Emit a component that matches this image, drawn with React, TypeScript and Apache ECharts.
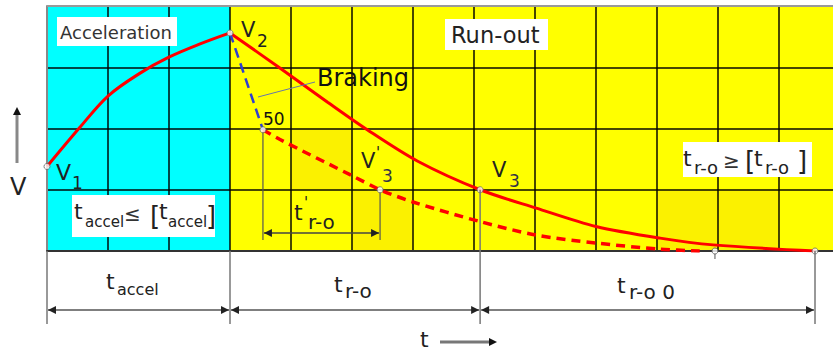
import React, { useEffect, useRef } from "react";
import * as echarts from "echarts";

// ---- data (time in grid columns, speed in grid rows) ----
const xMax = 12.885;
const yMax = 4;
const cyanEnd = 3;
const phaseBounds = [0, 3.0, 7.1, 12.59];
const accelCurve = [
  [0, 1.38], [0.54, 2.02], [1.0, 2.53], [1.52, 2.9], [1.99, 3.16], [2.51, 3.38], [3.0, 3.56],
];
const runoutCurve = [
  [3.0, 3.56], [3.8, 3.0], [4.6, 2.43], [5.25, 1.98], [6.07, 1.47], [7.1, 1.0],
  [8.02, 0.7], [9.0, 0.4], [10.05, 0.21], [10.92, 0.1], [12.59, 0],
];
const brakedCurve = [
  [3.54, 1.98], [3.82, 1.82], [5.02, 1.22], [5.46, 1.0], [6.0, 0.8], [7.1, 0.48],
  [8.02, 0.26], [9.0, 0.13], [10.05, 0.03], [10.7, 0],
];
const brakingLine = [[3.0, 3.56], [3.54, 1.98]];
const keyPoints = [[0, 1.38], [3.0, 3.56], [3.54, 1.98], [5.46, 1.0], [7.1, 1.0], [12.59, 0]];
const halfPoint = [[10.95, 0]];
const shadedCells = [[4, 1], [5, 0], [10, 0], [11, 0]];

const FONT = "DejaVu Sans";

export default function App() {
  const ref = useRef<HTMLDivElement>(null);
  useEffect(() => {
    const chart = echarts.init(ref.current!, null, { renderer: "svg" });
    const splitStyle = { color: "rgba(0,0,0,0.72)", width: 2 };
    chart.setOption({
      animation: false,
      backgroundColor: "#ffffff",
      grid: { left: 47, right: 0, top: 6, bottom: 101 },
      xAxis: {
        type: "value", min: 0, max: xMax, interval: 1, z: 3,
        axisLine: { show: true, lineStyle: { color: "#333", width: 2 } },
        axisTick: { show: false }, axisLabel: { show: false },
        splitLine: { show: true, showMinLine: false, showMaxLine: false, lineStyle: splitStyle },
      },
      yAxis: {
        type: "value", min: 0, max: yMax, interval: 1, z: 3,
        axisLine: { show: true, lineStyle: { color: "#888", width: 2 } },
        axisTick: { show: false }, axisLabel: { show: false },
        splitLine: { show: true, showMinLine: false, showMaxLine: false, lineStyle: splitStyle },
      },
      series: [
        {
          type: "line", data: [[0, 0]], showSymbol: false, silent: true, z: 1,
          lineStyle: { width: 0 },
          markArea: {
            silent: true,
            data: [
              [{ xAxis: 0, yAxis: 0, itemStyle: { color: "#00ffff" } }, { xAxis: cyanEnd, yAxis: yMax }],
              [{ xAxis: cyanEnd, yAxis: 0, itemStyle: { color: "#ffff00" } }, { xAxis: xMax, yAxis: yMax }],
              ...shadedCells.map(([c, r]) => [
                { xAxis: c, yAxis: r, itemStyle: { color: "#fbf100" } },
                { xAxis: c + 1, yAxis: r + 1 },
              ]),
            ],
          },
        },
        {
          type: "line", data: accelCurve, smooth: 0.35, showSymbol: false, z: 5,
          lineStyle: { color: "#ff0000", width: 3 },
        },
        {
          type: "line", data: runoutCurve, smooth: 0.3, showSymbol: false, z: 5,
          lineStyle: { color: "#ff0000", width: 3 },
        },
        {
          type: "line", data: brakedCurve, smooth: 0.3, showSymbol: false, z: 5,
          lineStyle: { color: "#ff0000", width: 3.5, type: [9, 6] },
        },
        {
          type: "line", data: brakingLine, showSymbol: false, z: 5,
          lineStyle: { color: "#2f3fd0", width: 2.5, type: [10, 6] },
        },
        {
          type: "scatter", data: keyPoints, symbol: "circle", symbolSize: 6, z: 8,
          itemStyle: { color: "#ffffff", borderColor: "#666", borderWidth: 1 },
        },
        {
          type: "scatter", data: halfPoint, symbol: "circle", symbolSize: 6, z: 8,
          itemStyle: { color: "#ffffff", borderColor: "#555", borderWidth: 1 },
        },
      ],
    });

    const px = (x: number, y: number) => chart.convertToPixel({ gridIndex: 0 }, [x, y]) as number[];
    const T = (x: number, y: number, text: string, size: number, fill = "#222", extra: any = {}) => ({
      type: "text", x, y, z: 110, silent: true,
      style: {
        text, fontSize: size, fontFamily: FONT, fill,
        align: "left", verticalAlign: "middle", textAlign: "left", textVerticalAlign: "middle", ...extra,
      },
    });
    const L = (x1: number, y1: number, x2: number, y2: number, stroke = "#777", lineWidth = 1.5) => ({
      type: "line", z: 105, silent: true, shape: { x1, y1, x2, y2 }, style: { stroke, lineWidth },
    });
    const A = (tx: number, ty: number, dir: string, fill = "#222", len = 8, half = 4) => {
      let points: number[][];
      if (dir === "left") points = [[tx, ty], [tx + len, ty - half], [tx + len, ty + half]];
      else if (dir === "right") points = [[tx, ty], [tx - len, ty - half], [tx - len, ty + half]];
      else points = [[tx, ty], [tx - half, ty + len], [tx + half, ty + len]];
      return { type: "polygon", z: 106, silent: true, shape: { points }, style: { fill } };
    };
    const R = (x: number, y: number, w: number, h: number) => ({
      type: "rect", z: 104, silent: true, shape: { x, y, width: w, height: h }, style: { fill: "#ffffff" },
    });

    const g: any[] = [];
    const topLeft = px(0, yMax);
    const bottomY = px(0, 0)[1];
    g.push(L(topLeft[0], topLeft[1], 833, topLeft[1], "#999", 2));

    // extension lines + dimension lines under the chart
    const dimY = 310;
    const extEnd = 324;
    const bx = phaseBounds.map((b) => px(b, 0)[0]);
    bx.forEach((x, i) => {
      const y0 = i === 2 ? px(keyPoints[4][0], keyPoints[4][1])[1] : bottomY;
      g.push(L(x, y0, x, extEnd, "#777", 1.5));
    });
    for (let i = 0; i < bx.length - 1; i++) {
      g.push(L(bx[i] + 1, dimY, bx[i + 1] - 1, dimY, "#555", 1.5));
      g.push(A(bx[i] + 1, dimY, "left"));
      g.push(A(bx[i + 1] - 1, dimY, "right"));
    }

    // t'r-o dimension inside the chart
    const p50 = px(keyPoints[2][0], keyPoints[2][1]);
    const pV3p = px(keyPoints[3][0], keyPoints[3][1]);
    const dimY2 = 233;
    g.push(L(p50[0], p50[1] + 3, p50[0], 240, "#555", 1.2));
    g.push(L(pV3p[0], pV3p[1] + 3, pV3p[0], 240, "#555", 1.2));
    g.push(L(p50[0] + 1, dimY2, pV3p[0] - 1, dimY2, "#444", 1.5));
    g.push(A(p50[0] + 1, dimY2, "left"));
    g.push(A(pV3p[0] - 1, dimY2, "right"));

    // half point tail
    const hp = px(halfPoint[0][0], halfPoint[0][1]);
    g.push(L(hp[0], hp[1] + 3, hp[0], hp[1] + 8, "#555", 1));

    // braking leader
    g.push(L(315, 82, 258, 97, "#6677aa", 1));

    // axis arrows
    g.push(L(17, 163, 17, 114, "#888", 3));
    g.push(A(17, 107, "up", "#111", 8, 4));
    g.push(T(10, 187, "V", 24, "#222"));
    g.push(L(440, 342, 490, 342, "#777", 3));
    g.push(A(497, 342, "right", "#111", 8, 4));
    g.push(T(420, 339, "t", 22, "#222"));

    // labelled boxes
    g.push(R(57, 17, 120, 29));
    g.push(T(60, 32, "Acceleration", 18, "#333"));
    g.push(R(445, 19, 103, 31));
    g.push(T(451, 35, "Run-out", 22.5, "#222"));
    g.push(T(317, 78, "Braking", 24, "#111"));

    // point labels
    g.push(T(241, 30, "V", 21, "#222"));
    g.push(T(257, 41, "2", 17, "#222"));
    g.push(T(56, 172, "V", 22, "#222"));
    g.push(T(72, 183, "1", 17, "#222"));
    g.push(T(263, 119, "50", 17, "#111"));
    g.push(T(361, 161, "V", 21, "#222"));
    g.push(T(376, 153, "'", 15, "#222"));
    g.push(T(382, 176, "3", 17, "#334"));
    g.push(T(492, 170, "V", 21, "#222"));
    g.push(T(509, 181, "3", 17, "#334"));

    // t'r-o
    g.push(T(294, 212, "t", 22, "#222"));
    g.push(T(304, 203, "'", 15, "#222"));
    g.push(T(308, 222, "r-o", 20, "#222"));

    // tr-o >= [tr-o]
    g.push(R(683, 142, 129, 35));
    g.push(T(683, 158, "t", 22, "#222"));
    g.push(T(694, 167, "r-o", 18, "#222"));
    g.push(T(723, 161, "≥", 20, "#333"));
    g.push(T(745, 161, "[", 26, "#222"));
    g.push(T(754, 158, "t", 22, "#222"));
    g.push(T(765, 167, "r-o", 18, "#222"));
    g.push(T(797, 161, "]", 26, "#222"));

    // taccel <= [taccel]
    g.push(R(72, 195, 143, 42));
    g.push(T(74, 211, "t", 22, "#222"));
    g.push(T(85, 222, "accel", 15, "#222"));
    g.push(T(124, 214, "≤", 20, "#333"));
    g.push(T(150, 216, "[", 26, "#222"));
    g.push(T(159, 211, "t", 22, "#222"));
    g.push(T(168, 222, "accel", 15, "#222"));
    g.push(T(206, 216, "]", 26, "#222"));

    // bottom interval labels
    g.push(T(106, 281, "t", 22, "#222"));
    g.push(T(117, 289, "accel", 16, "#222"));
    g.push(T(334, 284, "t", 22, "#222"));
    g.push(T(345, 291, "r-o", 20, "#222"));
    g.push(T(617, 285, "t", 22, "#222"));
    g.push(T(629, 292, "r-o 0", 20, "#222"));

    chart.setOption({ graphic: { elements: g } });
    return () => chart.dispose();
  }, []);
  return (
    <div
      ref={ref}
      style={{ position: "absolute", left: 0, top: 0, width: 833, height: 352, background: "#fff" }}
    />
  );
}
